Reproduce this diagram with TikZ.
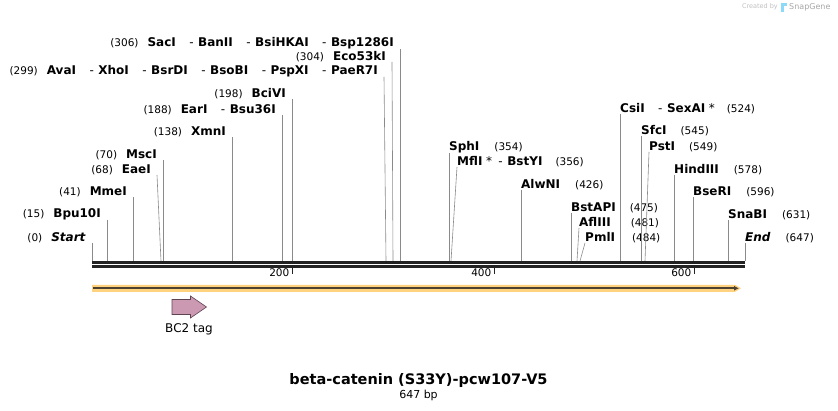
\documentclass[tikz,border=0pt]{standalone}
\usepackage{fontspec}
\setmainfont{DejaVu Sans}
\usetikzlibrary{positioning,arrows.meta}
\definecolor{sitegray}{HTML}{8A8A8A}
\definecolor{seqblack}{HTML}{222222}
\definecolor{featband}{HTML}{FFD27F}
\definecolor{featline}{HTML}{4D4232}
\definecolor{tagfill}{HTML}{CC99B3}
\definecolor{tagedge}{HTML}{5E4452}
\newcommand{\bpn}[1]{{\fontsize{10.5}{12}\selectfont\mdseries (#1)}}
\newcommand{\enz}[1]{\textbf{#1}}
\newcommand{\dsh}{\hspace{13.5pt}{\mdseries -}\hspace{4.5pt}}
\newcommand{\nonuniq}{\hspace{3.5pt}*}

\begin{document}
\begin{tikzpicture}[x=1pt,y=-1pt,
  site/.style={draw=sitegray,line width=0.6pt},
  leftlbl/.style={anchor=south east,inner sep=0pt,font=\fontsize{12}{14}\selectfont},
  rightlbl/.style={anchor=south west,inner sep=0pt,font=\fontsize{12}{14}\selectfont},
  tick/.style={draw=seqblack,line width=1.4pt},
  ticklbl/.style={inner sep=0pt,font=\fontsize{10.5}{12}\selectfont},
  taglbl/.style={inner sep=0pt,font=\fontsize{12}{14}\selectfont}]

  \useasboundingbox (0,0) rectangle (838,411);

  % cut sites on the sequence
  \coordinate (c0) at (92,261);    \coordinate (c15) at (107,261);
  \coordinate (c41) at (133,261);  \coordinate (c68) at (161,261);
  \coordinate (c70) at (163,261);  \coordinate (c138) at (232,261);
  \coordinate (c188) at (282,261); \coordinate (c198) at (292,261);
  \coordinate (c299) at (386,261); \coordinate (c304) at (393,261);
  \coordinate (c306) at (400,261); \coordinate (c354) at (449,261);
  \coordinate (c356) at (451,261); \coordinate (c426) at (521,261);
  \coordinate (c475) at (571,261); \coordinate (c481) at (577,261);
  \coordinate (c484) at (580,261); \coordinate (c524) at (620,261);
  \coordinate (c545) at (641,261); \coordinate (c549) at (645,261);
  \coordinate (c578) at (674,261); \coordinate (c596) at (693,261);
  \coordinate (c631) at (728,261); \coordinate (c647) at (745,261);

  % labels left of the sites
  \node [leftlbl] (start) at (92,243) {\bpn{0}\hspace{9pt}\enz{\itshape Start}\kern6pt};
  \node [leftlbl] (bpu10I) at (107,220) {\bpn{15}\hspace{9pt}\enz{Bpu10I}\kern6pt};
  \node [leftlbl] (mmeI) at (133,197) {\bpn{41}\hspace{9pt}\enz{MmeI}\kern6pt};
  \node [leftlbl] (eaeI) at (157,175) {\bpn{68}\hspace{9pt}\enz{EaeI}\kern6pt};
  \node [leftlbl] (mscI) at (163,160) {\bpn{70}\hspace{9pt}\enz{MscI}\kern6pt};
  \node [leftlbl] (xmnI) at (232,137) {\bpn{138}\hspace{9pt}\enz{XmnI}\kern6pt};
  \node [leftlbl] (earI) at (282,115) {\bpn{188}\hspace{9pt}\enz{EarI}\dsh\enz{Bsu36I}\kern6pt};
  \node [leftlbl] (bciVI) at (292,99) {\bpn{198}\hspace{9pt}\enz{BciVI}\kern6pt};
  \node [leftlbl] (avaI) at (384,77) {\bpn{299}\hspace{9pt}\enz{AvaI}\dsh\enz{XhoI}\dsh\enz{BsrDI}\dsh\enz{BsoBI}\dsh\enz{PspXI}\dsh\enz{PaeR7I}\kern6pt};
  \node [leftlbl] (eco53kI) at (392,62) {\bpn{304}\hspace{9pt}\enz{Eco53kI}\kern6pt};
  \node [leftlbl] (sacI) at (400,49) {\bpn{306}\hspace{9pt}\enz{SacI}\dsh\enz{BanII}\dsh\enz{BsiHKAI}\dsh\enz{Bsp1286I}\kern6pt};

  % labels right of the sites
  \node [rightlbl] (sphI) at (449,153) {\enz{SphI}\hspace{15pt}\bpn{354}};
  \node [rightlbl] (mflI) at (457,167) {\enz{MflI}\nonuniq\hspace{-7pt}\dsh\enz{BstYI}\hspace{13pt}\bpn{356}};
  \node [rightlbl] (alwNI) at (521,190) {\enz{AlwNI}\hspace{15pt}\bpn{426}};
  \node [rightlbl] (bstAPI) at (571,213) {\enz{BstAPI}\hspace{14pt}\bpn{475}};
  \node [rightlbl] (aflIII) at (579,228) {\enz{AflIII}\hspace{20pt}\bpn{481}};
  \node [rightlbl] (pmlI) at (585,243) {\enz{PmlI}\hspace{17pt}\bpn{484}};
  \node [rightlbl] (csiI) at (620,114) {\enz{CsiI}\dsh\enz{SexAI}\nonuniq\hspace{12pt}\bpn{524}};
  \node [rightlbl] (sfcI) at (641,136) {\enz{SfcI}\hspace{14pt}\bpn{545}};
  \node [rightlbl] (pstI) at (649,152) {\enz{PstI}\hspace{14pt}\bpn{549}};
  \node [rightlbl] (hindIII) at (674,175) {\enz{HindIII}\hspace{15pt}\bpn{578}};
  \node [rightlbl] (bseRI) at (693,197) {\enz{BseRI}\hspace{15pt}\bpn{596}};
  \node [rightlbl] (snaBI) at (728,220) {\enz{SnaBI}\hspace{15pt}\bpn{631}};
  \node [rightlbl] (end) at (745,243) {\enz{\itshape End}\hspace{15pt}\bpn{647}};

  \path [site] (start.south east) edge (c0)
        (bpu10I.south east) edge (c15)
        (mmeI.south east) edge (c41)
        (eaeI.south east) edge (c68)
        (mscI.south east) edge (c70)
        (xmnI.south east) edge (c138)
        (earI.south east) edge (c188)
        (bciVI.south east) edge (c198)
        (avaI.south east) edge (c299)
        (eco53kI.south east) edge (c304)
        (sacI.south east) edge (c306)
        (sphI.south west) edge (c354)
        (mflI.south west) edge (c356)
        (alwNI.south west) edge (c426)
        (bstAPI.south west) edge (c475)
        (aflIII.south west) edge (c481)
        (pmlI.south west) edge (c484)
        (csiI.south west) edge (c524)
        (sfcI.south west) edge (c545)
        (pstI.south west) edge (c549)
        (hindIII.south west) edge (c578)
        (bseRI.south west) edge (c596)
        (snaBI.south west) edge (c631)
        (end.south west) edge (c647);

  % sequence, both strands
  \draw [seqblack,line width=2.8pt] (c0) ++(0,1.5) -- ++(653,0);
  \draw [seqblack,line width=2.6pt] (c0) ++(0,5.7) -- ++(653,0);

  % ruler
  \coordinate (t200) at (292.5,267);
  \coordinate (t400) at (494.5,267);
  \coordinate (t600) at (694.5,267);
  \draw [tick] (t200) -- ++(0,7.5);
  \draw [tick] (t400) -- ++(0,7.5);
  \draw [tick] (t600) -- ++(0,7.5);
  \node [ticklbl,below left=1.5pt and 3pt of t200] (l200) {200};
  \node [ticklbl,below left=1.5pt and 3pt of t400] (l400) {400};
  \node [ticklbl,below left=1.5pt and 3pt of t600] (l600) {600};

  % features
  \fill [featband] (92,284.8) -- (735,284.8) -- (741,288.3) -- (735,291.8) -- (92,291.8) -- cycle;
  \draw [featline,line width=1.6pt,-{Latex[length=5pt,width=5pt]}] (93,288.3) -- (739,288.3);
  \draw [tagedge,fill=tagfill,line width=0.6pt] (172,299.5) -- (190.5,299.5) -- (190.5,296)
        -- (206.5,307) -- (190.5,318) -- (190.5,314.5) -- (172,314.5) -- cycle;
  \coordinate (bc2) at (189,322);
  \node [taglbl,below=1pt of bc2] (bc2lbl) {BC2 tag};

  % title
  \node [inner sep=0pt,font=\bfseries\fontsize{14.5}{17}\selectfont] (title) at (418.5,380) {beta-catenin (S33Y)-pcw107-V5};
  \node [inner sep=0pt,font=\fontsize{11}{13}\selectfont,below=3pt of title] (len) {647 bp};

  % credit
  \node [inner sep=0pt,anchor=east,text=black!25,font=\fontsize{6.5}{7}\selectfont] (made) at (778,7) {Created by};
  \fill [cyan!45] (781,3) rectangle (783.5,12);
  \fill [cyan!45] (783.5,3) rectangle (786.5,6.5);
  \node [inner sep=0pt,anchor=west,text=black!35,font=\fontsize{8}{9}\selectfont] (snap) at (789,7) {SnapGene};
\end{tikzpicture}
\end{document}
